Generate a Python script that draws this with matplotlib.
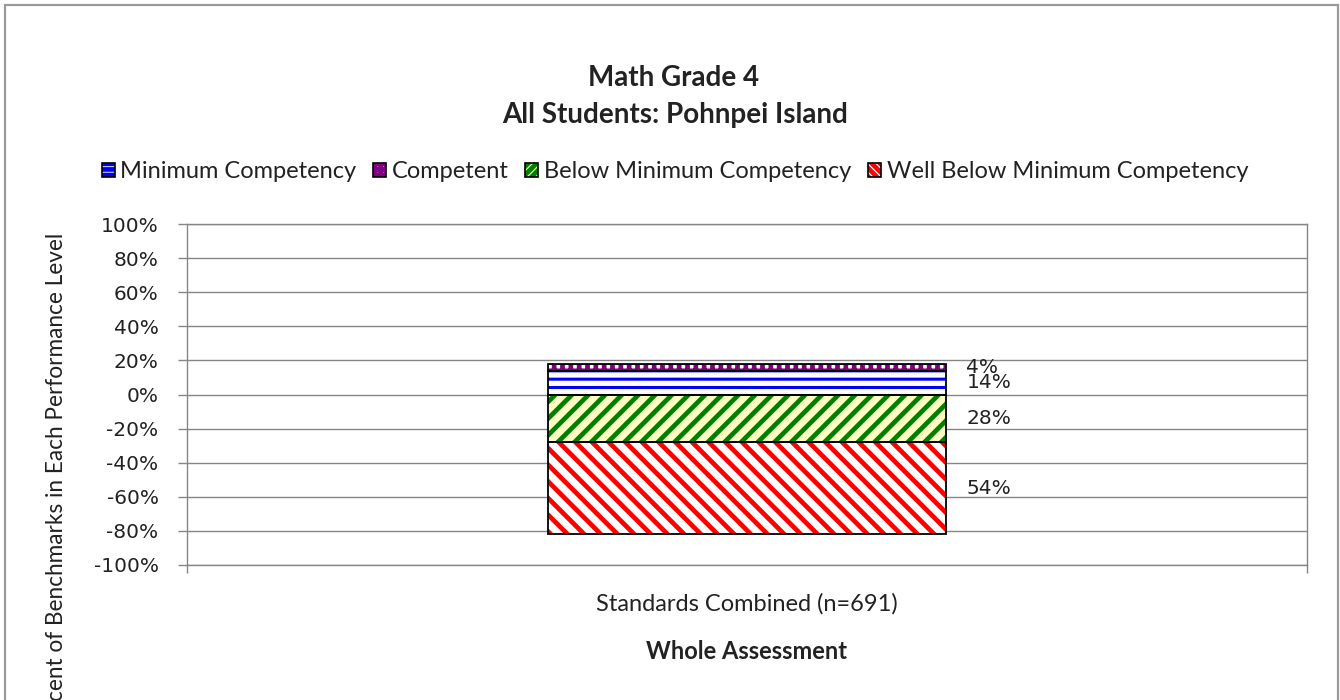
import matplotlib
matplotlib.use("Agg")
import matplotlib.pyplot as plt
from matplotlib.patches import Patch, Rectangle
from matplotlib.ticker import FuncFormatter

# values
category = "Standards Combined (n=691)"
levels = ["Minimum Competency", "Competent",
          "Below Minimum Competency", "Well Below Minimum Competency"]
above = [14, 4]      # stacked upward from 0: Minimum Competency, Competent
below = [28, 54]     # stacked downward from 0: Below Minimum, Well Below
yticks = [-100, -80, -60, -40, -20, 0, 20, 40, 60, 80, 100]

# fill colour, hatch colour, hatch in the bar, hatch in the legend key
styles = {
    "Minimum Competency": ("white", "#0000ff", "--", "---"),
    "Competent": ("white", "#800080", "++", "+++"),
    "Below Minimum Competency": ("#ffffc4", "#008000", "//", "////"),
    "Well Below Minimum Competency": ("white", "#ff0000", "\\\\", "\\\\\\\\"),
}

plt.rcParams["hatch.linewidth"] = 3.4
GRID = "#868686"
TXT = "#222222"

fig = plt.figure(figsize=(13.4, 7), dpi=100)
ax = fig.add_axes([187 / 1340, 1 - 565 / 700, 1120 / 1340, 341 / 700])

bar_w = 0.356


def hatched_bar(bottom, height, level):
    face, hcol, hatch, _ = styles[level]
    p = ax.bar(0, height, bar_w, bottom=bottom, color=face, edgecolor=hcol,
               linewidth=0, hatch=hatch, zorder=3)[0]
    if level == "Minimum Competency" and hasattr(p, "set_hatch_linewidth"):
        p.set_hatch_linewidth(2.2)
    ax.bar(0, height, bar_w, bottom=bottom, fill=False, edgecolor="black",
           linewidth=1.3, zorder=4)
    ax.annotate(f"{abs(height):.0f}%", (bar_w / 2, bottom + height / 2),
                xytext=(14.4, 0), textcoords="offset points", va="center",
                ha="left", fontsize=14.5, color=TXT)


base = 0
for lvl, v in zip(levels[:2], above):
    hatched_bar(base, v, lvl)
    base += v
base = 0
for lvl, v in zip(levels[2:], below):
    hatched_bar(base, -v, lvl)
    base -= v

ax.set_xlim(-0.5, 0.5)
ax.set_ylim(-100, 100)
ax.set_yticks(yticks)
ax.yaxis.set_major_formatter(FuncFormatter(lambda v, _: f"{v:.0f}%"))
ax.tick_params(axis="y", length=6.5, width=1, color=GRID, labelsize=14.5,
               labelcolor=TXT, pad=14)
ax.set_xticks([-0.5, 0.5])
ax.set_xticklabels([])
ax.tick_params(axis="x", length=6, width=1, color=GRID)
ax.grid(axis="y", color=GRID, linewidth=1, zorder=0)
ax.set_axisbelow(True)
for s in ax.spines.values():
    s.set_color(GRID)
    s.set_linewidth(1)

ax.text(0, -0.115, category, transform=ax.get_xaxis_transform(), ha="center",
        va="center", fontsize=17, family="Lato", color=TXT)
ax.text(0, -0.255, "Whole Assessment", transform=ax.get_xaxis_transform(),
        ha="center", va="center", fontsize=17, family="Lato",
        fontweight="bold", color=TXT)

fig.text(674 / 1340, 1 - 78 / 700, "Math Grade 4", ha="center", va="center",
         fontsize=20, family="Lato", fontweight="bold", color=TXT)
fig.text(675 / 1340, 1 - 115 / 700, "All Students: Pohnpei Island", ha="center",
         va="center", fontsize=20, family="Lato", fontweight="bold", color=TXT)
# the reference cuts this label off at the bottom edge as well
fig.text(57 / 1340, 1 - 233 / 700,
         "Percent of Benchmarks in Each Performance Level", rotation=90,
         ha="center", va="top", fontsize=16.3, family="Lato", color=TXT)

handles = []
for lvl in levels:
    face, hcol, _, khatch = styles[lvl]
    key = Patch(facecolor=face, edgecolor=hcol, hatch=khatch, linewidth=0)
    if hasattr(key, "set_hatch_linewidth"):
        key.set_hatch_linewidth(1.6)
    handles.append((key, Patch(fill=False, edgecolor="black", linewidth=1.2)))
fig.legend(handles, levels, loc="center", bbox_to_anchor=(675 / 1340, 1 - 172 / 700),
           ncol=4, frameon=False, handlelength=0.55, handleheight=0.55,
           handletextpad=0.25, columnspacing=0.7, borderaxespad=0,
           prop={"family": "Lato", "size": 17}, labelcolor=TXT)

fig.patches.append(Rectangle((5 / 1340, -0.02), 1333 / 1340, 1 - 5 / 700 + 0.02,
                             transform=fig.transFigure, fill=False,
                             edgecolor="#9a9a9a", linewidth=1.6))

fig.savefig("out.png", dpi=100)
